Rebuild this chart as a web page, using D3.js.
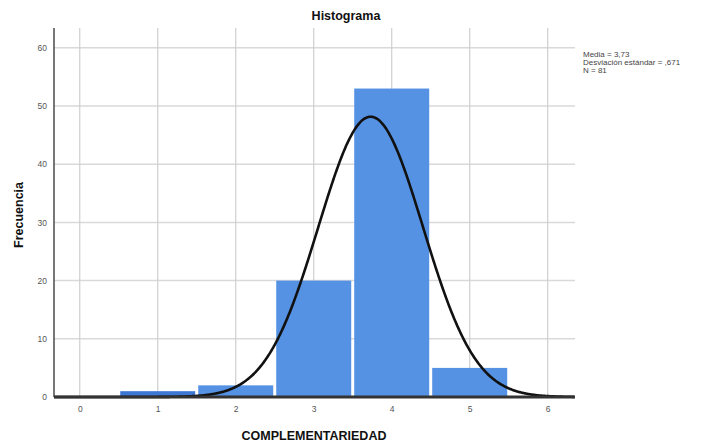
<!DOCTYPE html>
<html>
<head>
<meta charset="utf-8">
<script src="https://cdn.jsdelivr.net/npm/d3@7"></script>
<style>
html,body{margin:0;padding:0;background:#fff;}
svg{display:block;font-family:Arial,"Liberation Sans",sans-serif;}
</style>
</head>
<body>
<svg id="c" width="704" height="443"></svg>
<script>
const categories = [1, 2, 3, 4, 5];
const frequencies = [1, 2, 20, 53, 5];
const xTicks = [0, 1, 2, 3, 4, 5, 6];
const yTicks = [0, 10, 20, 30, 40, 50, 60];
const stats = ["Media = 3,73", "Desviación estándar = ,671", "N = 81"];
const mean = [3.73];
const sd = [0.671];
const nTotal = [81];

const svg = d3.select("#c");
const L = 54, R = 575, T = 28, B = 397;
const x = d3.scaleLinear().domain([-0.33, 6.35]).range([L, R]);
const y = d3.scaleLinear().domain([0, 60]).range([B, B - 6 * 58.2]);

// gridlines
svg.append("g").selectAll("line").data(yTicks.filter(d => d > 0)).join("line")
  .attr("x1", L).attr("x2", R).attr("y1", d => y(d)).attr("y2", d => y(d))
  .attr("stroke", "#d9d9d9").attr("stroke-width", 1.5);
svg.append("g").selectAll("line").data(xTicks).join("line")
  .attr("x1", d => x(d)).attr("x2", d => x(d)).attr("y1", T).attr("y2", B)
  .attr("stroke", "#cfcfcf").attr("stroke-width", 1.2);

// bars
svg.append("g").selectAll("rect").data(categories).join("rect")
  .attr("x", (d) => x(d - 0.5) + 1.5)
  .attr("width", x(0.5) - x(-0.5) - 3)
  .attr("y", (d, i) => y(frequencies[i]))
  .attr("height", (d, i) => B - y(frequencies[i]))
  .attr("fill", (d, i) => frequencies[i] <= 1 ? "#3f78d4" : "#5592e3");

// normal curve
const m = mean[0], s = sd[0], n = nTotal[0];
const xs = d3.range(-0.33, 6.35, 0.01);
const line = d3.line().x(d => x(d)).y(d => y(n / (s * Math.sqrt(2 * Math.PI)) * Math.exp(-0.5 * ((d - m) / s) ** 2)))
  .curve(d3.curveBasis);
svg.append("path").datum(xs).attr("d", line).attr("fill", "none")
  .attr("stroke", "#111").attr("stroke-width", 2.6);

// axes
const ya = d3.axisLeft(y).tickValues(yTicks).tickFormat(d3.format("d")).tickSize(0).tickPadding(7);
const gy = svg.append("g").attr("transform", `translate(${L},0)`).call(ya);
gy.select(".domain").attr("stroke", "#555").attr("stroke-width", 1.6).attr("d", `M0,${T}V${B}`);
gy.selectAll("text").attr("fill", "#555").attr("font-size", 8.5);

const xa = d3.axisBottom(x).tickValues(xTicks).tickFormat(d3.format("d")).tickSize(0).tickPadding(9);
const gx = svg.append("g").attr("transform", `translate(0,${B})`).call(xa);
gx.select(".domain").attr("stroke", "#333").attr("stroke-width", 3).attr("d", `M${L},0H${R}`);
gx.selectAll("text").attr("fill", "#555").attr("font-size", 8.5);

// titles
svg.append("text").attr("x", 346).attr("y", 20).attr("text-anchor", "middle")
  .attr("font-weight", "bold").attr("font-size", 12.5).attr("fill", "#111").text("Histograma");
svg.append("text").attr("x", 314).attr("y", 440).attr("text-anchor", "middle")
  .attr("font-weight", "bold").attr("font-size", 12.5).attr("fill", "#111").text("COMPLEMENTARIEDAD");
svg.append("text").attr("transform", "translate(23,215) rotate(-90)").attr("text-anchor", "middle")
  .attr("font-weight", "bold").attr("font-size", 12.5).attr("fill", "#111").text("Frecuencia");

// stats
svg.append("g").selectAll("text").data(stats).join("text")
  .attr("x", 583).attr("y", (d, i) => 57 + i * 8)
  .attr("font-size", 8).attr("fill", "#444").text(d => d);
</script>
</body>
</html>
